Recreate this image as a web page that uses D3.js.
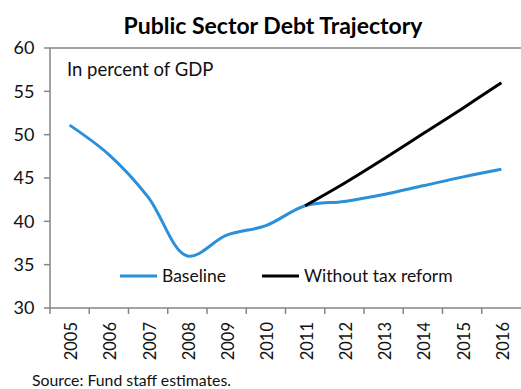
<!DOCTYPE html>
<html>
<head>
<meta charset="utf-8">
<script src="https://cdn.jsdelivr.net/npm/d3@7"></script>
<style>
  body { margin: 0; background: #fff; }
  svg { display: block; font-family: Lato, "Open Sans", sans-serif; }
</style>
</head>
<body>
<svg id="chart" width="521" height="389"></svg>
<script>
var years = ["2005", "2006", "2007", "2008", "2009", "2010", "2011", "2012", "2013", "2014", "2015", "2016"];
var baseline = [51.1, 47.7, 42.8, 36.0, 38.4, 39.5, 41.8, 42.3, 43.1, 44.1, 45.1, 46.0];
var no_reform = [null, null, null, null, null, null, 41.8, 44.4, 47.2, 50.1, 53.0, 56.0];
var y_ticks = [30, 35, 40, 45, 50, 55, 60];

var svg = d3.select("#chart");
var axis_color = "#868686";
var blue = "#2a90da";

var x = d3.scaleBand().domain(years).range([50, 521]).padding(0);
var y = d3.scaleLinear().domain([30, 60]).range([308, 48]);

// title
svg.append("text")
    .attr("x", 273)
    .attr("y", 34)
    .attr("text-anchor", "middle")
    .style("font-weight", "bold")
    .style("font-size", "23px")
    .text("Public Sector Debt Trajectory");

// frame: top border and axes
svg.append("line")
    .attr("x1", 50).attr("x2", 521)
    .attr("y1", y(60)).attr("y2", y(60))
    .attr("stroke", axis_color).attr("stroke-width", 1.5);

svg.append("line")
    .attr("x1", 50).attr("x2", 521)
    .attr("y1", y(30)).attr("y2", y(30))
    .attr("stroke", axis_color).attr("stroke-width", 1.5);

svg.append("line")
    .attr("x1", 50).attr("x2", 50)
    .attr("y1", y(60)).attr("y2", y(30))
    .attr("stroke", axis_color).attr("stroke-width", 1.5);

// y ticks
y_ticks.forEach(function(t) {
    svg.append("line")
        .attr("x1", 44).attr("x2", 50)
        .attr("y1", y(t)).attr("y2", y(t))
        .attr("stroke", axis_color).attr("stroke-width", 1.5);
    svg.append("text")
        .attr("x", 34.5)
        .attr("y", y(t))
        .attr("dy", "0.36em")
        .attr("text-anchor", "end")
        .style("font-size", "18px")
        .attr("fill", "#111")
        .text(t);
});

// x ticks at category boundaries
years.forEach(function(yr) {
    svg.append("line")
        .attr("x1", x(yr)).attr("x2", x(yr))
        .attr("y1", y(30)).attr("y2", y(30) + 6)
        .attr("stroke", axis_color).attr("stroke-width", 1.5);
    var cx = x(yr) + x.bandwidth() / 2;
    svg.append("text")
        .attr("transform", "translate(" + (cx + 1.5) + "," + 322 + ") rotate(-90)")
        .attr("dy", "0.36em")
        .attr("text-anchor", "end")
        .style("font-size", "16.5px")
        .attr("fill", "#111")
        .text(yr);
});

var line = d3.line()
    .defined(function(d) { return d.v !== null; })
    .x(function(d) { return x(d.year) + x.bandwidth() / 2; })
    .y(function(d) { return y(d.v); })
    .curve(d3.curveCatmullRom);

var to_points = function(vals) {
    return years.map(function(yr, i) { return {year: yr, v: vals[i]}; });
};

svg.append("path")
    .attr("d", line(to_points(baseline)))
    .attr("fill", "none")
    .attr("stroke", blue)
    .attr("stroke-width", 3);

svg.append("path")
    .attr("d", line(to_points(no_reform)))
    .attr("fill", "none")
    .attr("stroke", "#000")
    .attr("stroke-width", 3);

svg.append("text")
    .attr("x", 67)
    .attr("y", 76)
    .style("font-size", "18.5px")
    .attr("fill", "#111")
    .text("In percent of GDP");

// legend
var legend = [
    {name: "Baseline", color: blue, x: 120},
    {name: "Without tax reform", color: "#000", x: 262}
];
legend.forEach(function(d) {
    svg.append("line")
        .attr("x1", d.x).attr("x2", d.x + 37)
        .attr("y1", 276).attr("y2", 276)
        .attr("stroke", d.color).attr("stroke-width", 3);
    svg.append("text")
        .attr("x", d.x + 42)
        .attr("y", 276)
        .attr("dy", "0.36em")
        .style("font-size", "17.5px")
        .attr("fill", "#111")
        .text(d.name);
});

svg.append("text")
    .attr("x", 32)
    .attr("y", 386)
    .style("font-size", "15.8px")
    .attr("fill", "#111")
    .text("Source: Fund staff estimates.");
</script>
</body>
</html>
